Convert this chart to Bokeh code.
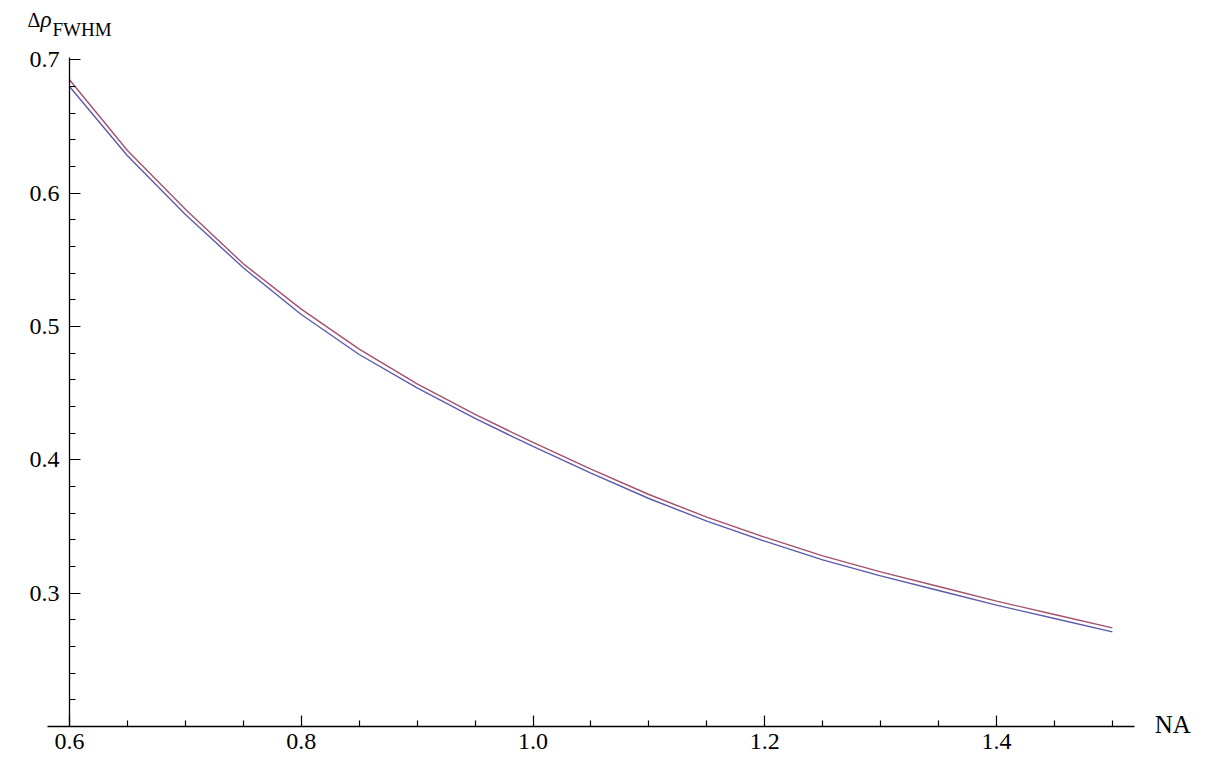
from bokeh.plotting import figure
from bokeh.models import Range1d, FixedTicker, PrintfTickFormatter, Label, LinearAxis
from bokeh.embed import file_html
from bokeh.resources import INLINE

# Data
na = [0.60, 0.65, 0.70, 0.75, 0.80, 0.85, 0.90, 0.95, 1.00, 1.05,
      1.10, 1.15, 1.20, 1.25, 1.30, 1.35, 1.40, 1.45, 1.50]
fwhm_red = [0.685, 0.632, 0.588, 0.547, 0.513, 0.483, 0.457, 0.434, 0.413, 0.393,
            0.374, 0.357, 0.342, 0.328, 0.316, 0.305, 0.294, 0.284, 0.274]
fwhm_blue = [0.680, 0.628, 0.584, 0.544, 0.509, 0.479, 0.454, 0.431, 0.410, 0.390,
             0.371, 0.354, 0.339, 0.325, 0.313, 0.302, 0.291, 0.281, 0.271]

x_major = [0.6, 0.8, 1.0, 1.2, 1.4]
x_minor = [0.65, 0.7, 0.75, 0.85, 0.9, 0.95, 1.05, 1.1, 1.15, 1.25, 1.3, 1.35, 1.45, 1.5]
y_major = [0.3, 0.4, 0.5, 0.6, 0.7]
y_minor = [0.22, 0.24, 0.26, 0.28, 0.32, 0.34, 0.36, 0.38, 0.42, 0.44, 0.46, 0.48,
           0.52, 0.54, 0.56, 0.58, 0.62, 0.64, 0.66, 0.68]

FONT = "Liberation Serif"

p = figure(width=1205, height=770, output_backend="svg", toolbar_location=None,
           x_axis_type=None, y_axis_type=None,
           x_range=Range1d(0.54045, 1.58036), y_range=Range1d(0.16700, 0.74448),
           min_border_left=0, min_border_right=0, min_border_top=0, min_border_bottom=0)
p.outline_line_color = None
p.xgrid.visible = False
p.ygrid.visible = False
p.background_fill_color = "white"
p.border_fill_color = "white"

def style(ax):
    ax.axis_line_color = "black"
    ax.axis_line_width = 1.3
    ax.major_tick_in = 11
    ax.major_tick_out = 0
    ax.minor_tick_in = 6
    ax.minor_tick_out = 0
    ax.major_tick_line_width = 1.2
    ax.minor_tick_line_width = 1.2
    ax.major_tick_line_color = "black"
    ax.minor_tick_line_color = "black"
    ax.major_label_text_font = FONT
    ax.major_label_text_font_size = "24px"
    ax.major_label_text_color = "black"
    ax.formatter = PrintfTickFormatter(format="%.1f")

xaxis = LinearAxis(ticker=FixedTicker(ticks=x_major, minor_ticks=x_minor),
                   bounds=(0.581, 1.519))
style(xaxis)
xaxis.major_label_standoff = 8
xaxis.fixed_location = 0.2
p.add_layout(xaxis, "below")

yaxis = LinearAxis(ticker=FixedTicker(ticks=y_major, minor_ticks=y_minor),
                   bounds=(0.2, 0.7017))
style(yaxis)
yaxis.major_label_standoff = 10
yaxis.fixed_location = 0.6
p.add_layout(yaxis, "left")

p.line(na, fwhm_red, line_color="#a5506f", line_width=1.4)
p.line(na, fwhm_blue, line_color="#5a5aae", line_width=1.4)

p.add_layout(Label(x=1.5365, y=0.2015, text="NA", text_font=FONT, text_font_size="25px",
                   text_color="black", text_baseline="alphabetic", text_align="left"))
p.add_layout(Label(x=0.5638, y=0.7300, text="Δ", text_font=FONT, text_font_size="20px",
                   text_color="black", text_baseline="alphabetic", text_align="left"))
p.add_layout(Label(x=0.5638, y=0.7300, x_offset=13, text="ρ", text_font=FONT,
                   text_font_size="23px", text_font_style="italic",
                   text_color="black", text_baseline="alphabetic", text_align="left"))
p.add_layout(Label(x=0.5638, y=0.7300, x_offset=25, y_offset=-10, text="FWHM", text_font=FONT,
                   text_font_size="19px", text_color="black",
                   text_baseline="alphabetic", text_align="left"))

open("out.html", "w").write(file_html(p, INLINE))
